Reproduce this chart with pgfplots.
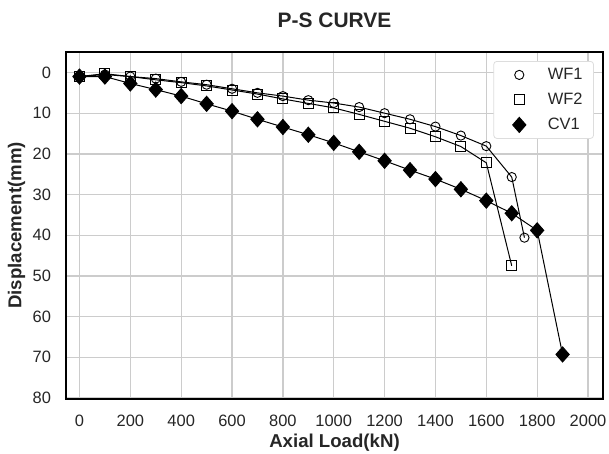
\documentclass[border=0pt]{standalone}
\usepackage{pgfplots}
\pgfplotsset{compat=1.18}
\usepackage{fontspec}
\setmainfont{Liberation Sans}
\definecolor{gridgray}{HTML}{CCCCCC}
\definecolor{leggray}{HTML}{DDDDDD}
\begin{document}
\begin{tikzpicture}[x=1bp,y=1bp]
\path[use as bounding box] (0,0) rectangle (609,454);
\begin{axis}[
  at={(66bp,55bp)}, anchor=south west,
  scale only axis, width=537bp, height=347bp,
  xmin=-53, xmax=2059, ymin=-5.04, ymax=80.25,
  y dir=reverse,
  xtick={0,200,...,2000}, ytick={0,10,...,80},
  grid=major, major grid style={draw=gridgray, line width=1.3bp},
  axis line style={line width=1.8bp},
  tick style={draw=none},
  /pgf/number format/assume math mode=true,
  /pgf/number format/1000 sep={},
  tick label style={font=\fontsize{16.5}{19}\selectfont, text=black!85},
  xticklabel style={yshift=-13bp},
  yticklabel style={xshift=-11.5bp},
  xlabel={\textbf{Axial Load(kN)}}, ylabel={\textbf{Displacement(mm)}},
  label style={font=\fontsize{18.7}{22}\selectfont, text=black!85},
  xlabel style={at={(axis description cs:0.5,-0.125)}, anchor=center},
  ylabel style={at={(axis description cs:-0.0923,0.5)}, anchor=center},
  title={\textbf{P-S CURVE}},
  title style={font=\fontsize{21}{24}\selectfont, text=black!85, at={(axis description cs:0.5,1.075)}, anchor=center},
  legend style={at={(axis description cs:0.983,0.974)}, anchor=north east,
     font=\fontsize{16.5}{19}\selectfont, text=black!85, draw=leggray, rounded corners=3pt, line width=0.8bp,
     inner xsep=0pt, inner ysep=6bp, row sep=10bp,
     nodes={inner sep=0pt, text height=12bp, text depth=3bp}},
  legend cell align=left,
  legend image code/.code={\path (0bp,-7bp) (38bp,7bp); \draw[#1, only marks] plot coordinates {(25bp,0bp)};},
]
\addplot[black, line width=1bp, mark=o, mark size=4.6bp, mark options={fill=white, line width=0.9bp}] coordinates {
(0,1)(100,0.5)(200,1)(300,1.5)(400,2.3)(500,3)(600,4)(700,5)(800,5.8)(900,6.8)(1000,7.5)(1100,8.5)(1200,10)(1300,11.5)(1400,13.3)(1500,15.5)(1600,18.1)(1700,25.7)(1750,40.6)};
\addplot[black, line width=1bp, mark=square, mark size=5bp, mark options={fill=white, line width=0.9bp}] coordinates {
(0,1)(100,0.3)(200,1)(300,1.8)(400,2.5)(500,3.3)(600,4.3)(700,5.3)(800,6.5)(900,7.6)(1000,8.7)(1100,10.3)(1200,12)(1300,13.7)(1400,15.8)(1500,18.2)(1600,22.2)(1700,47.5)};
\addplot[black, line width=1bp, mark=diamond*, mark size=7.5bp, mark options={fill=black, xscale=1.17}] coordinates {
(0,1)(100,1)(200,2.7)(300,4.2)(400,5.8)(500,7.7)(600,9.5)(700,11.5)(800,13.4)(900,15.3)(1000,17.3)(1100,19.5)(1200,21.7)(1300,24)(1400,26.2)(1500,28.7)(1600,31.5)(1700,34.6)(1800,38.8)(1900,69.3)};
\legend{\rule{15bp}{0pt}WF1\rule{11bp}{0pt},\rule{15bp}{0pt}WF2\rule{11bp}{0pt},\rule{15bp}{0pt}CV1\rule{11bp}{0pt}}
\end{axis}
\end{tikzpicture}
\end{document}
